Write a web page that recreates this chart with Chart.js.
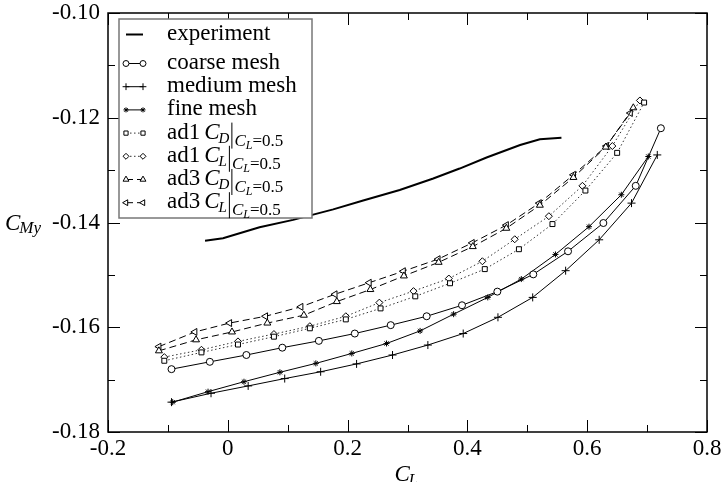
<!DOCTYPE html>
<html><head><meta charset="utf-8">
<script src="https://cdn.jsdelivr.net/npm/chart.js@4.4.1/dist/chart.umd.min.js"></script>
<style>html,body{margin:0;padding:0;background:#fff}canvas{display:block}</style>
</head><body>
<canvas id="c" width="721" height="482"></canvas>
<script>
// ---- data ----
const xTickValues = [-0.2, 0, 0.2, 0.4, 0.6, 0.8];
const yTickValues = [-0.18, -0.16, -0.14, -0.12, -0.10];

const expX = [-0.038, -0.008, 0.053, 0.109, 0.176, 0.226, 0.287, 0.343, 0.387, 0.432, 0.488, 0.521, 0.557];
const expY = [-0.1435, -0.1430, -0.1409, -0.1395, -0.1375, -0.1358, -0.1338, -0.1316, -0.1297, -0.1276, -0.1252, -0.1241, -0.1238];

const coarseX = [-0.094, -0.030, 0.031, 0.091, 0.152, 0.212, 0.272, 0.332, 0.391, 0.450, 0.510, 0.568, 0.627, 0.681, 0.723];
const coarseY = [-0.1680, -0.1666, -0.1653, -0.1639, -0.1626, -0.1612, -0.1596, -0.1579, -0.1558, -0.1532, -0.1499, -0.1455, -0.1401, -0.1330, -0.1220];

const mediumX = [-0.094, -0.028, 0.034, 0.095, 0.155, 0.215, 0.275, 0.334, 0.393, 0.451, 0.509, 0.564, 0.620, 0.674, 0.717];
const mediumY = [-0.1743, -0.1726, -0.1712, -0.1698, -0.1685, -0.1670, -0.1653, -0.1634, -0.1612, -0.1581, -0.1543, -0.1492, -0.1433, -0.1363, -0.1271];

const fineX = [-0.092, -0.033, 0.027, 0.087, 0.147, 0.207, 0.265, 0.321, 0.377, 0.434, 0.490, 0.547, 0.603, 0.657, 0.702];
const fineY = [-0.1743, -0.1723, -0.1704, -0.1686, -0.1669, -0.1650, -0.1631, -0.1607, -0.1575, -0.1543, -0.1508, -0.1461, -0.1408, -0.1347, -0.1274];

const ad1CdX = [-0.106, -0.044, 0.017, 0.077, 0.137, 0.197, 0.255, 0.313, 0.371, 0.429, 0.486, 0.542, 0.597, 0.650, 0.695];
const ad1CdY = [-0.1664, -0.1648, -0.1633, -0.1618, -0.1602, -0.1585, -0.1564, -0.1541, -0.1516, -0.1489, -0.1451, -0.1403, -0.1339, -0.1267, -0.1171];

const ad1ClX = [-0.106, -0.044, 0.017, 0.077, 0.137, 0.197, 0.253, 0.310, 0.369, 0.425, 0.479, 0.536, 0.592, 0.642, 0.688];
const ad1ClY = [-0.1657, -0.1643, -0.1627, -0.1613, -0.1598, -0.1579, -0.1553, -0.1531, -0.1507, -0.1474, -0.1432, -0.1388, -0.1330, -0.1254, -0.1167];

const ad3CdX = [-0.115, -0.053, 0.007, 0.066, 0.127, 0.182, 0.238, 0.294, 0.352, 0.409, 0.465, 0.521, 0.577, 0.631, 0.677];
const ad3CdY = [-0.1645, -0.1624, -0.1609, -0.1592, -0.1577, -0.1551, -0.1528, -0.1502, -0.1476, -0.1446, -0.1411, -0.1367, -0.1314, -0.1256, -0.1181];

const ad3ClX = [-0.115, -0.055, 0.003, 0.063, 0.122, 0.179, 0.236, 0.293, 0.351, 0.408, 0.465, 0.520, 0.577, 0.632, 0.672];
const ad3ClY = [-0.1637, -0.1609, -0.1592, -0.1579, -0.1561, -0.1537, -0.1515, -0.1493, -0.1470, -0.1439, -0.1405, -0.1363, -0.1309, -0.1254, -0.1191];

// ---- helpers ----
const pts = (xs, ys) => xs.map((x, i) => ({x: x, y: ys[i]}));
const SERIF = '"Liberation Serif", "DejaVu Serif", serif';

// legend label parts: [text, style]
const legendLabels = [
  [['experiment', 'n']],
  [['coarse mesh', 'n']],
  [['medium mesh', 'n']],
  [['fine mesh', 'n']],
  [['ad1', 'n'], [' ', 'gap'], ['C', 'i'], ['D', 'si1'], ['|', 'bar'], ['C', 'si'], ['L', 'ss'], ['=0.5', 'sn']],
  [['ad1', 'n'], [' ', 'gap'], ['C', 'i'], ['L', 'si1'], ['|', 'bar'], ['C', 'si'], ['L', 'ss'], ['=0.5', 'sn']],
  [['ad3', 'n'], [' ', 'gap'], ['C', 'i'], ['D', 'si1'], ['|', 'bar'], ['C', 'si'], ['L', 'ss'], ['=0.5', 'sn']],
  [['ad3', 'n'], [' ', 'gap'], ['C', 'i'], ['L', 'si1'], ['|', 'bar'], ['C', 'si'], ['L', 'ss'], ['=0.5', 'sn']]
];

function base(label, d, extra) {
  return Object.assign({
    label: label, data: d, borderColor: '#000', borderWidth: 1, tension: 0,
    pointBackgroundColor: '#fff', pointBorderColor: '#000', pointBorderWidth: 1,
    pointRadius: 3.5, pointHoverRadius: 3.5, fill: false
  }, extra);
}

const datasets = [
  base('experiment', pts(expX, expY), {borderWidth: 2, pointRadius: 0, pointHoverRadius: 0}),
  base('coarse mesh', pts(coarseX, coarseY), {pointStyle: 'circle', pointRadius: 3.5}),
  base('medium mesh', pts(mediumX, mediumY), {pointStyle: 'cross', pointRadius: 4}),
  base('fine mesh', pts(fineX, fineY), {pointStyle: 'star', pointRadius: 3}),
  base('ad1 CD|CL=0.5', pts(ad1CdX, ad1CdY), {pointStyle: 'rect', pointRadius: 3.5, borderDash: [1.5, 2.5], borderColor: '#333'}),
  base('ad1 CL|CL=0.5', pts(ad1ClX, ad1ClY), {pointStyle: 'rectRot', pointRadius: 3.5, borderDash: [1.5, 2.5], borderColor: '#333'}),
  base('ad3 CD|CL=0.5', pts(ad3CdX, ad3CdY), {pointStyle: 'triangle', pointRadius: 4, borderDash: [7, 4]}),
  base('ad3 CL|CL=0.5', pts(ad3ClX, ad3ClY), {pointStyle: 'triangle', pointRotation: -90, pointRadius: 4, borderDash: [7, 4]})
];

const fontFor = {
  n: '23px ' + SERIF,
  i: 'italic 23px ' + SERIF,
  si1: 'italic 15px ' + SERIF,
  si: 'italic 17px ' + SERIF,
  ss: 'italic 12px ' + SERIF,
  sn: '17px ' + SERIF
};
const dyFor = {n: 0, i: 0, si1: 4, si: 7, ss: 10, sn: 7};

const decor = {
  id: 'decor',
  afterDatasetsDraw(chart) {
    const ctx = chart.ctx, a = chart.chartArea;
    const xs = chart.scales.x, ys = chart.scales.y;
    ctx.save();
    ctx.strokeStyle = '#000';
    ctx.lineWidth = 1;
    ctx.setLineDash([]);
    // inward ticks
    for (let i = -2; i <= 8; i++) {
      const px = Math.round(xs.getPixelForValue(i / 10)) + 0.5;
      const len = (i % 2 === 0) ? 12 : 7;
      ctx.beginPath();
      ctx.moveTo(px, a.bottom); ctx.lineTo(px, a.bottom - len);
      ctx.moveTo(px, a.top); ctx.lineTo(px, a.top + len);
      ctx.stroke();
    }
    for (let i = 10; i <= 18; i++) {
      const py = Math.round(ys.getPixelForValue(-i / 100)) + 0.5;
      const len = (i % 2 === 0) ? 12 : 7;
      ctx.beginPath();
      ctx.moveTo(a.left, py); ctx.lineTo(a.left + len, py);
      ctx.moveTo(a.right, py); ctx.lineTo(a.right - len, py);
      ctx.stroke();
    }
    // frame
    ctx.lineWidth = 1.5;
    ctx.strokeRect(a.left, a.top, a.right - a.left, a.bottom - a.top);

    // axis titles
    ctx.fillStyle = '#000';
    ctx.textBaseline = 'alphabetic';
    ctx.textAlign = 'left';
    const cx = (a.left + a.right) / 2;
    ctx.font = 'italic 23px ' + SERIF;
    ctx.fillText('C', cx - 13, 481);
    let w = ctx.measureText('C').width;
    ctx.font = 'italic 16px ' + SERIF;
    ctx.fillText('L', cx - 13 + w - 1, 485);
    const cy = (a.top + a.bottom) / 2;
    ctx.font = 'italic 23px ' + SERIF;
    ctx.fillText('C', 5, cy + 7);
    w = ctx.measureText('C').width;
    ctx.font = 'italic 17px ' + SERIF;
    ctx.fillText('My', 5 + w - 1, cy + 10);

    // legend box
    const bx = a.left + 11, by = a.top + 6, bw = 193, bh = 199;
    ctx.fillStyle = '#fff';
    ctx.fillRect(bx, by, bw, bh);
    ctx.strokeStyle = '#777';
    ctx.lineWidth = 1.5;
    ctx.strokeRect(bx, by, bw, bh);

    chart.data.datasets.forEach((ds, i) => {
      const ry = i === 0 ? a.top + 21 : a.top + 50 + (i - 1) * 23.2;
      const x1 = bx + 7, x2 = bx + 24;
      ctx.save();
      ctx.strokeStyle = ds.borderColor;
      ctx.lineWidth = ds.borderWidth;
      ctx.setLineDash(ds.borderDash || []);
      ctx.beginPath();
      ctx.moveTo(x1, ry + 0.5); ctx.lineTo(x2, ry + 0.5);
      ctx.stroke();
      ctx.setLineDash([]);
      if (ds.pointRadius > 0 && Chart.helpers && Chart.helpers.drawPoint) {
        ctx.fillStyle = '#fff';
        ctx.strokeStyle = '#000';
        ctx.lineWidth = 1;
        const opt = {pointStyle: ds.pointStyle, rotation: ds.pointRotation || 0, radius: ds.pointRadius * 0.85, borderWidth: 1};
        Chart.helpers.drawPoint(ctx, opt, x1, ry + 0.5);
        Chart.helpers.drawPoint(ctx, opt, x2, ry + 0.5);
      }
      ctx.restore();
      // text
      let tx = bx + 48;
      const baseY = ry + 6;
      ctx.fillStyle = '#000';
      legendLabels[i].forEach(part => {
        const t = part[0], st = part[1];
        if (st === 'gap') { tx += 4; return; }
        if (st === 'bar') {
          ctx.save();
          ctx.strokeStyle = '#000';
          ctx.lineWidth = 1;
          ctx.beginPath();
          ctx.moveTo(tx + 2.5, baseY - 16); ctx.lineTo(tx + 2.5, baseY + 10);
          ctx.stroke();
          ctx.restore();
          tx += 5;
          return;
        }
        ctx.font = fontFor[st];
        ctx.fillText(t, tx, baseY + dyFor[st]);
        tx += ctx.measureText(t).width - (st === 'i' ? 1 : 0);
      });
    });
    ctx.restore();
  }
};

new Chart(document.getElementById('c'), {
  type: 'line',
  data: {datasets: datasets},
  options: {
    responsive: false,
    animation: false,
    devicePixelRatio: 1,
    layout: {padding: {top: 13, right: 14, left: 0, bottom: 0}},
    plugins: {legend: {display: false}, tooltip: {enabled: false}},
    scales: {
      x: {
        type: 'linear', min: -0.2, max: 0.8,
        afterFit: s => { s.height = 50; s.paddingLeft = 0; s.paddingRight = 0; },
        afterBuildTicks: s => { s.ticks = xTickValues.map(v => ({value: v})); },
        grid: {display: false, drawTicks: false},
        border: {display: false},
        ticks: {
          color: '#000', padding: 3, maxRotation: 0, autoSkip: false,
          font: {family: SERIF, size: 23},
          callback: v => Math.abs(v) < 1e-9 ? '0' : (+v).toFixed(1)
        }
      },
      y: {
        type: 'linear', min: -0.18, max: -0.10,
        afterFit: s => { s.width = 108; s.paddingTop = 0; s.paddingBottom = 0; },
        afterBuildTicks: s => { s.ticks = yTickValues.map(v => ({value: v})); },
        grid: {display: false, drawTicks: false},
        border: {display: false},
        ticks: {
          color: '#000', padding: 8, autoSkip: false,
          font: {family: SERIF, size: 23},
          callback: v => (+v).toFixed(2)
        }
      }
    }
  },
  plugins: [decor]
});
</script>
</body></html>
